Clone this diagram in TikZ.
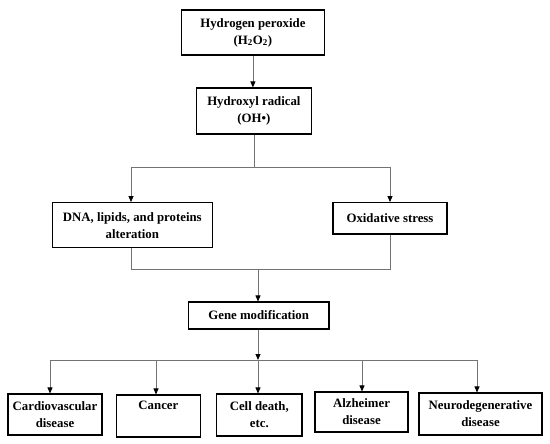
\documentclass[tikz,border=0pt]{standalone}
\usepackage{fontspec}
\setmainfont{Liberation Serif}
\usetikzlibrary{arrows.meta}
\begin{document}
\begin{tikzpicture}[x=1pt,y=1pt,
  box/.style={draw=black,line width=1.1pt,inner sep=0pt,align=center,
    font=\fontsize{12.8}{17}\selectfont\bfseries},
  conn/.style={draw=black!55,line width=0.8pt},
  arr/.style={conn,-{Triangle[width=5pt,length=6pt,black]}}]
\path[use as bounding box,fill=white] (0,0) rectangle (550,-444);

\node[box,minimum width=142.3,minimum height=45] (h2o2) at (252.9,-32.5)
  {Hydrogen peroxide\\(H\textsubscript{2}O\textsubscript{2})};
\node[box,minimum width=114.3,minimum height=46] (oh) at (253.9,-111)
  {Hydroxyl radical\\(OH•)};
\node[box,minimum width=159.5,minimum height=45.2] (dna) at (132.3,-225.2)
  {DNA, lipids, and proteins\\alteration};
\node[box,minimum width=114,minimum height=31.4] (ox) at (390,-218.3)
  {Oxidative stress};
\node[box,minimum width=140.6,minimum height=27] (gene) at (258.7,-315.5)
  {Gene modification};
\node[box,minimum width=94,minimum height=41] (cardio) at (55,-414.5)
  {Cardiovascular\\disease};
\node[box,minimum width=84.7,minimum height=42] (cancer) at (158.4,-416)
  {Cancer\\\strut};
\node[box,minimum width=85.3,minimum height=42] (cell) at (259.3,-415)
  {Cell death,\\etc.};
\node[box,minimum width=93,minimum height=40] (alz) at (361.5,-412)
  {Alzheimer\\disease};
\node[box,minimum width=123,minimum height=42] (neuro) at (480.5,-414)
  {Neurodegenerative\\disease};

% top
\draw[arr] (h2o2.south) -- (h2o2.south |- oh.north);
\coordinate (tl) at (131,-167);
\coordinate (tr) at (390,-167);
\draw[conn] (oh.south) -- (oh.south |- tl);
\draw[conn] (tl) -- (tr);
\draw[arr] (tl) -- (tl |- dna.north);
\draw[arr] (tr) -- (tr |- ox.north);

% middle
\coordinate (ml) at (131,-269.5);
\coordinate (mr) at (390,-269.5);
\coordinate (mm) at (258,-269.5);
\draw[conn] (dna.south -| ml) -- (ml) -- (mr) -- (ox.south -| mr);
\draw[arr] (mm) -- (mm |- gene.north);

% bottom
\coordinate (bm) at (258,-360);
\coordinate (b1) at (50,-360);
\coordinate (b2) at (156,-360);
\coordinate (b4) at (362,-360);
\coordinate (b5) at (477,-360);
\draw[conn] (b1) -- (b5);
\draw[arr] (gene.south -| bm) -- (bm);
\draw[arr] (b1) -- (b1 |- cardio.north);
\draw[arr] (b2) -- (b2 |- cancer.north);
\draw[arr] (bm) -- (bm |- cell.north);
\draw[arr] (b4) -- (b4 |- alz.north);
\draw[arr] (b5) -- (b5 |- neuro.north);
\end{tikzpicture}
\end{document}
